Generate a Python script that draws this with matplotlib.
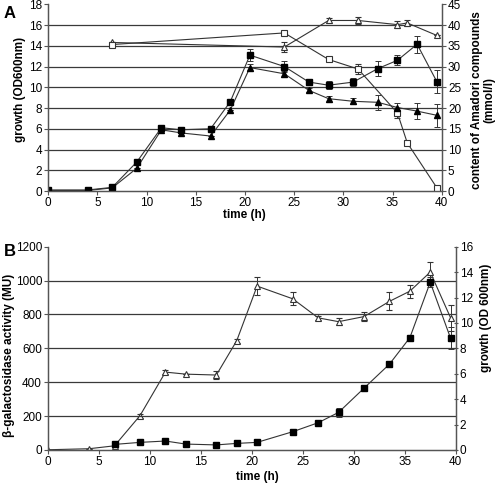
import matplotlib
matplotlib.use("Agg")
import matplotlib.pyplot as plt
import numpy as np

plt.rcParams['font.family'] = ['Liberation Sans', 'DejaVu Sans']

# ---------------- Panel A data ----------------
time_A = [0, 4, 6.5, 9, 11.5, 13.5, 16.5, 18.5, 20.5, 24, 26.5, 28.5, 31, 33.5, 35.5, 37.5, 39.5]
growth_sq_A = [0.1, 0.1, 0.35, 2.8, 6.1, 5.9, 6.0, 8.6, 13.1, 12.0, 10.5, 10.2, 10.5, 11.8, 12.6, 14.15, 10.55]
growth_sq_A_err = [0, 0, 0, 0, 0, 0, 0, 0, 0.6, 0.5, 0.3, 0.4, 0.4, 0.7, 0.5, 0.8, 1.1]
growth_tri_A = [0.05, 0.05, 0.3, 2.2, 5.9, 5.6, 5.3, 7.8, 11.9, 11.3, 9.7, 8.9, 8.65, 8.55, 8.05, 7.7, 7.3]
growth_tri_A_err = [0, 0, 0, 0, 0, 0, 0, 0, 0.3, 0.3, 0.2, 0.3, 0.3, 0.7, 0.4, 0.8, 1.1]

time_amadori = [6.5, 24, 28.5, 31.5, 35.5, 36.5, 39.5]
amadori_tri = [35.8, 34.7, 41.1, 41.1, 40.1, 40.5, 37.5]
amadori_tri_err = [0, 1.2, 0.5, 0.8, 0.8, 0.8, 0]
amadori_sq = [35.3, 38.1, 31.7, 29.4, 18.8, 11.6, 0.8]
amadori_sq_err = [0, 0, 0, 1.3, 1.2, 0, 0]

# ---------------- Panel B data ----------------
time_B = [0, 4, 6.5, 9, 11.5, 13.5, 16.5, 18.5, 20.5, 24, 26.5, 28.5, 31, 33.5, 35.5, 37.5, 39.5]
growth_B = [0.02, 0.1, 0.33, 2.7, 6.13, 5.97, 5.9, 8.6, 12.9, 11.9, 10.4, 10.1, 10.5, 11.7, 12.5, 14.0, 10.4]
growth_B_err = [0, 0, 0, 0.15, 0.15, 0, 0.3, 0.15, 0.7, 0.5, 0.15, 0.3, 0.35, 0.7, 0.5, 0.8, 1.0]
time_gal = [6.5, 9, 11.5, 13.5, 16.5, 18.5, 20.5, 24, 26.5, 28.5, 31, 33.5, 35.5, 37.5, 39.5]
gal_B = [33, 45, 53, 35, 30, 39, 45, 108, 161, 222, 365, 507, 663, 990, 659]
gal_B_err = [0, 0, 0, 0, 0, 0, 0, 0, 0, 25, 0, 0, 0, 30, 65]

xticks = [0, 5, 10, 15, 20, 25, 30, 35, 40]
yticks_A = [0, 2, 4, 6, 8, 10, 12, 14, 16, 18]
yticks_A2 = [0, 5, 10, 15, 20, 25, 30, 35, 40, 45]
yticks_B = [0, 200, 400, 600, 800, 1000, 1200]
yticks_B2 = [0, 2, 4, 6, 8, 10, 12, 14, 16]

W, H = 495, 484
fig = plt.figure(figsize=(W / 100, H / 100), dpi=100)

def px_ax(l, r, t, b):
    return [l / W, 1 - b / H, (r - l) / W, (b - t) / H]

FS = 8.5
LC = '#333333'
GC = '#3a3a3a'

def style_axis(ax, ax2, ylim, ylim2, yt, yt2, right_dir):
    ax.set_xlim(0, 40)
    ax.set_ylim(*ylim)
    ax2.set_ylim(*ylim2)
    ax.set_xticks(xticks)
    ax.set_yticks(yt)
    ax2.set_yticks(yt2)
    for a in (ax, ax2):
        a.spines['top'].set_visible(False)
        for s in a.spines.values():
            s.set_color('#555555')
            s.set_linewidth(0.9)
    ax.tick_params(axis='both', labelsize=FS, length=3, width=0.8, color='#555555', pad=1.5, direction='out')
    ax2.tick_params(axis='y', labelsize=FS, length=3, width=0.8, color='#555555', pad=1.5, direction=right_dir)
    for v in yt[1:-1]:
        ax.axhline(v, color=GC, lw=0.9, zorder=0)

ekw = dict(capsize=2.2, elinewidth=0.7, capthick=0.7, ecolor='#333333')
MS_SQ = 4.2
MS_TRI = 4.8

# ---------------- Panel A ----------------
axA = fig.add_axes(px_ax(48.3, 441.7, 4.3, 191))
axA2 = axA.twinx()
style_axis(axA, axA2, (0, 18), (0, 45), yticks_A, yticks_A2, 'out')

axA2.errorbar(time_amadori, amadori_tri, yerr=amadori_tri_err, color=LC, lw=0.8, marker='^', ms=MS_TRI,
              mfc='white', mec='#333333', mew=0.8, **ekw)
axA2.errorbar(time_amadori, amadori_sq, yerr=amadori_sq_err, color=LC, lw=0.8, marker='s', ms=MS_SQ,
              mfc='white', mec='#333333', mew=0.8, **ekw)
axA2.errorbar(time_A, [v * 2.5 for v in growth_tri_A], yerr=[e * 2.5 for e in growth_tri_A_err], color=LC,
              lw=0.8, marker='^', ms=MS_TRI, mfc='black', mec='black', **ekw)
axA2.errorbar(time_A, [v * 2.5 for v in growth_sq_A], yerr=[e * 2.5 for e in growth_sq_A_err], color=LC,
              lw=0.8, marker='s', ms=MS_SQ, mfc='black', mec='black', **ekw)

def fx(x):
    return x / W
def fy(y):
    return 1 - y / H

fig.text(fx(244), fy(215), 'time (h)', ha='center', va='center', fontsize=FS, fontweight='bold')
fig.text(fx(20), fy(89), 'growth (OD600nm)', rotation=90, ha='center', va='center', fontsize=FS, fontweight='bold')
fig.text(fx(483), fy(100), 'content of Amadori compounds\n(mmol/l)', rotation=90, ha='center', va='center',
         fontsize=FS, fontweight='bold', multialignment='center', linespacing=1.1)
fig.text(fx(10), fy(13), 'A', ha='center', va='center', fontsize=12, fontweight='bold')

# ---------------- Panel B ----------------
axB = fig.add_axes(px_ax(48.3, 455.7, 246.7, 450))
axB2 = axB.twinx()
style_axis(axB, axB2, (0, 1200), (0, 16), yticks_B, yticks_B2, 'inout')

axB2.errorbar(time_B, growth_B, yerr=growth_B_err, color=LC, lw=0.8, marker='^', ms=MS_TRI,
              mfc='white', mec='#333333', mew=0.8, **ekw)
axB.errorbar(time_gal, gal_B, yerr=gal_B_err, color=LC, lw=0.8, marker='s', ms=MS_SQ,
             mfc='black', mec='black', **ekw)
axB.set_zorder(axB2.get_zorder() + 1)
axB.patch.set_visible(False)

fig.text(fx(257), fy(477), 'time (h)', ha='center', va='center', fontsize=FS, fontweight='bold')
fig.text(fx(9), fy(355), 'β-galactosidase activity (MU)', rotation=90, ha='center', va='center',
         fontsize=FS, fontweight='bold')
fig.text(fx(486), fy(318), 'growth (OD 600nm)', rotation=90, ha='center', va='center', fontsize=FS, fontweight='bold')
fig.text(fx(10), fy(252), 'B', ha='center', va='center', fontsize=12, fontweight='bold')

fig.savefig('out.png', dpi=100)
